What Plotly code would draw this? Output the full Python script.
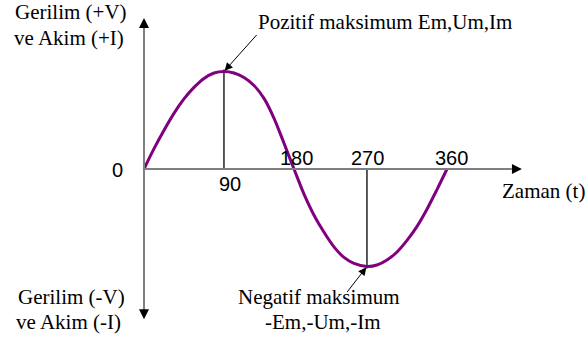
import plotly.graph_objects as go

# ---- data (angle in degrees, relative amplitude) ----
angle_deg = [0.0, 11.9, 23.8, 35.6, 47.5, 59.4, 71.3, 83.2, 95.0,
             106.9, 118.8, 130.7, 142.6, 154.5, 166.3, 178.2,
             190.1, 202.0, 213.9, 225.7, 237.6, 249.5, 264.9,
             276.8, 288.7, 300.6, 312.5, 324.4, 336.2, 348.1, 360.0]
amplitude = [0.0, 0.209, 0.398, 0.571, 0.719, 0.837, 0.929, 0.985, 1.0,
             0.985, 0.939, 0.857, 0.724, 0.520, 0.265, 0.0,
             -0.258, -0.474, -0.649, -0.799, -0.907, -0.969, -1.0,
             -0.985, -0.933, -0.851, -0.732, -0.588, -0.412, -0.211, 0.0]
tick_values = [0, 90, 180, 270, 360]
tick_labels = ["0", "90", "180", "270", "360"]
pos_label = "Pozitif maksimum Em,Um,Im"
neg_label = ["Negatif maksimum", "-Em,-Um,-Im"]
y_pos_label = ["Gerilim (+V)", "ve Akim (+I)"]
y_neg_label = ["Gerilim (-V)", "ve Akim (-I)"]
x_label = "Zaman (t)"

W, H = 585, 343
SERIF = "Liberation Serif, Times New Roman, serif"
SANS = "Liberation Sans, Arial, sans-serif"

i_max = amplitude.index(max(amplitude))
i_min = amplitude.index(min(amplitude))

fig = go.Figure()

# vertical drop lines at the maximum / minimum
fig.add_trace(go.Scatter(x=[angle_deg[i_max], angle_deg[i_max]], y=[0, amplitude[i_max] + 0.02],
                         mode="lines", line=dict(color="black", width=1.3), hoverinfo="skip"))
fig.add_trace(go.Scatter(x=[angle_deg[i_min], angle_deg[i_min]], y=[0, amplitude[i_min] - 0.02],
                         mode="lines", line=dict(color="black", width=1.3), hoverinfo="skip"))

# axes lines
AX_COL = "#7f7f7f"
fig.add_shape(type="line", x0=0, x1=437, y0=0, y1=0, xref="x", yref="y",
              line=dict(color=AX_COL, width=2))
fig.add_shape(type="line", x0=0, x1=0, y0=1.45, y1=-1.45, xref="x", yref="y",
              line=dict(color=AX_COL, width=2))

# sine curve
fig.add_trace(go.Scatter(x=angle_deg, y=amplitude, mode="lines",
                         line=dict(color="#800080", width=3, shape="spline", smoothing=0.8),
                         hoverinfo="skip"))

ann = []
# axis arrow heads
head = dict(text="", showarrow=True, arrowhead=2, arrowsize=2, arrowwidth=1,
            arrowcolor="black", xref="x", yref="y", standoff=0)
ann.append(dict(head, x=0, y=1.55, ax=0, ay=10))
ann.append(dict(head, x=0, y=-1.54, ax=0, ay=-10))
ann.append(dict(head, x=449, y=0, ax=-10, ay=0))

# pointer arrows
ptr = dict(text="", showarrow=True, arrowhead=2, arrowsize=1.6, arrowwidth=1,
           arrowcolor="black", xref="x", yref="y", standoff=1)
ann.append(dict(ptr, x=angle_deg[i_max], y=amplitude[i_max], ax=34, ay=-38))
ann.append(dict(ptr, x=angle_deg[i_min], y=amplitude[i_min], ax=-21, ay=27))

def txt(s, xp, yp, font, size):
    return dict(text=s, x=xp / W, y=1 - yp / H, xref="paper", yref="paper",
                xanchor="center", yanchor="middle", showarrow=False,
                font=dict(family=font, size=size, color="black"))

# tick labels
tick_px = {0: (117.5, 170), 90: (230, 184.5), 180: (296, 158), 270: (367, 158), 360: (451, 158)}
for v, lab in zip(tick_values, tick_labels):
    ann.append(txt(lab, tick_px[v][0], tick_px[v][1], SANS, 20))

ann.append(txt(pos_label, 385, 22, SERIF, 21))
ann.append(txt(neg_label[0], 319, 297, SERIF, 21))
ann.append(txt(neg_label[1], 322, 322, SERIF, 21))
ann.append(txt(y_pos_label[0], 71, 12, SERIF, 21))
ann.append(txt(y_pos_label[1], 68.5, 38, SERIF, 21))
ann.append(txt(y_neg_label[0], 71, 297, SERIF, 21))
ann.append(txt(y_neg_label[1], 68.5, 322, SERIF, 21))
ann.append(txt(x_label, 543, 191, SERIF, 21))

k = 303 / 360.0  # px per degree
fig.update_layout(
    width=W, height=H, margin=dict(l=0, r=0, t=0, b=0),
    paper_bgcolor="white", plot_bgcolor="white", showlegend=False,
    xaxis=dict(range=[-144 / k, (W - 144) / k], visible=False, fixedrange=True),
    yaxis=dict(range=[-(H - 169) / 97.5, 169 / 97.5], visible=False, fixedrange=True),
    annotations=ann,
)

fig.write_html("out.html", config={"displayModeBar": False},
               post_script="document.body.style.margin='0';document.body.style.overflow='hidden';")
